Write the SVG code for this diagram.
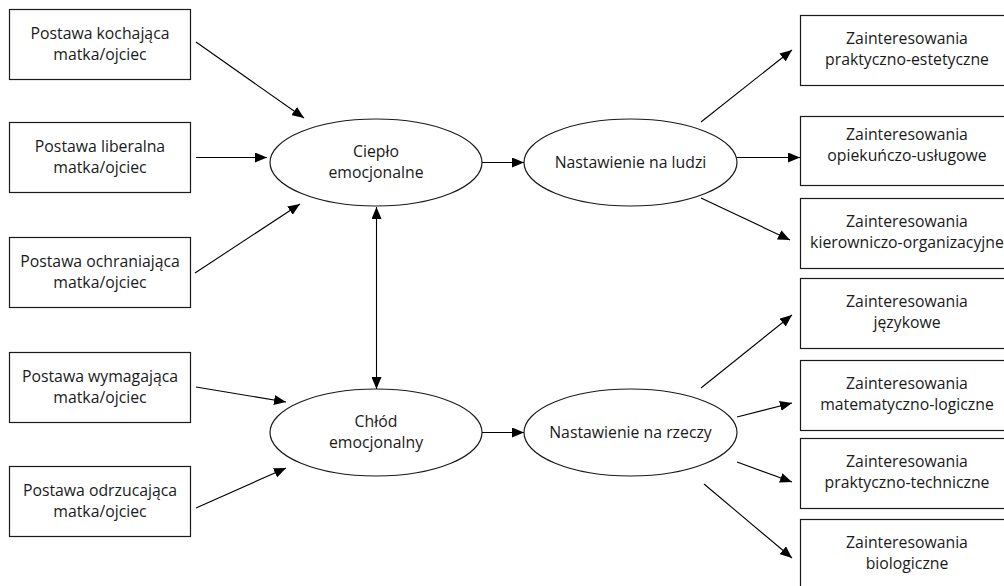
<svg xmlns="http://www.w3.org/2000/svg" width="1004" height="586" viewBox="0 0 1004 586">
<defs>
<marker id="ah" viewBox="0 0 12 10" refX="12" refY="5" markerWidth="12" markerHeight="10" markerUnits="userSpaceOnUse" orient="auto-start-reverse">
<path d="M0,0 L12,5 L0,10 z" fill="#000"/>
</marker>
<style>
.box{fill:#fff;stroke:#1a1a1a;stroke-width:1.2}
.ell{fill:#fff;stroke:#1a1a1a;stroke-width:1.2}
.t{font-family:"Open Sans","Noto Sans",sans-serif;font-size:15.8px;fill:#1a1a1a;text-anchor:middle}
.c{stroke:#000;stroke-width:1.1;fill:none;marker-end:url(#ah)}
</style>
</defs>
<rect width="1004" height="586" fill="#fff"/>
<g id="n-kochajaca"><rect class="box" x="9.5" y="9.5" width="181" height="70"/><text class="t" x="100" y="39">Postawa kochająca</text><text class="t" x="100" y="60">matka/ojciec</text></g>
<g id="n-liberalna"><rect class="box" x="9.5" y="122.5" width="181" height="70"/><text class="t" x="100" y="152">Postawa liberalna</text><text class="t" x="100" y="173">matka/ojciec</text></g>
<g id="n-ochraniajaca"><rect class="box" x="9.5" y="237.5" width="181" height="70"/><text class="t" x="100" y="267">Postawa ochraniająca</text><text class="t" x="100" y="288">matka/ojciec</text></g>
<g id="n-wymagajaca"><rect class="box" x="9.5" y="352.5" width="181" height="70"/><text class="t" x="100" y="382">Postawa wymagająca</text><text class="t" x="100" y="403">matka/ojciec</text></g>
<g id="n-odrzucajaca"><rect class="box" x="9.5" y="466.5" width="181" height="70"/><text class="t" x="100" y="496">Postawa odrzucająca</text><text class="t" x="100" y="517">matka/ojciec</text></g>
<g id="n-cieplo"><ellipse class="ell" cx="376" cy="162.5" rx="106" ry="43.5"/><text class="t" x="376" y="157">Ciepło</text><text class="t" x="376" y="178">emocjonalne</text></g>
<g id="n-chlod"><ellipse class="ell" cx="376" cy="432.5" rx="106" ry="43.5"/><text class="t" x="376" y="427">Chłód</text><text class="t" x="376" y="448">emocjonalny</text></g>
<g id="n-ludzi"><ellipse class="ell" cx="630.5" cy="162.5" rx="106.5" ry="43.5"/><text class="t" x="630.5" y="168">Nastawienie na ludzi</text></g>
<g id="n-rzeczy"><ellipse class="ell" cx="630.5" cy="432.5" rx="106.5" ry="43.5"/><text class="t" x="630.5" y="438">Nastawienie na rzeczy</text></g>
<g id="n-estetyczne"><rect class="box" x="800.5" y="15.5" width="215" height="70"/><text class="t" x="907" y="44">Zainteresowania</text><text class="t" x="907" y="65">praktyczno-estetyczne</text></g>
<g id="n-uslugowe"><rect class="box" x="800.5" y="116.5" width="215" height="69"/><text class="t" x="907" y="140">Zainteresowania</text><text class="t" x="907" y="161">opiekuńczo-usługowe</text></g>
<g id="n-organizacyjne"><rect class="box" x="800.5" y="198.5" width="215" height="70"/><text class="t" x="907" y="227">Zainteresowania</text><text class="t" x="907" y="248">kierowniczo-organizacyjne</text></g>
<g id="n-jezykowe"><rect class="box" x="800.5" y="278.5" width="215" height="70"/><text class="t" x="907" y="307">Zainteresowania</text><text class="t" x="907" y="328">językowe</text></g>
<g id="n-logiczne"><rect class="box" x="800.5" y="360.5" width="215" height="70"/><text class="t" x="907" y="389">Zainteresowania</text><text class="t" x="907" y="410">matematyczno-logiczne</text></g>
<g id="n-techniczne"><rect class="box" x="800.5" y="438.5" width="215" height="70"/><text class="t" x="907" y="467">Zainteresowania</text><text class="t" x="907" y="488">praktyczno-techniczne</text></g>
<g id="n-biologiczne"><rect class="box" x="800.5" y="519.5" width="215" height="80"/><text class="t" x="907" y="548">Zainteresowania</text><text class="t" x="907" y="569">biologiczne</text></g>
<g id="connectors">
<line class="c" x1="196" y1="42" x2="304" y2="118"/>
<line class="c" x1="196" y1="157.5" x2="267" y2="157.5"/>
<line class="c" x1="195" y1="273" x2="300" y2="204"/>
<line class="c" x1="196" y1="387" x2="286" y2="402"/>
<line class="c" x1="196" y1="508" x2="286" y2="468"/>
<line class="c" x1="376.5" y1="207" x2="376.5" y2="389" style="marker-start:url(#ah)"/>
<line class="c" x1="482" y1="162.5" x2="524" y2="162.5"/>
<line class="c" x1="482" y1="432.5" x2="524" y2="432.5"/>
<line class="c" x1="701" y1="122" x2="792" y2="50"/>
<line class="c" x1="737" y1="157.5" x2="800" y2="157.5"/>
<line class="c" x1="701" y1="198" x2="790" y2="240"/>
<line class="c" x1="701" y1="388" x2="792" y2="315"/>
<line class="c" x1="737" y1="417" x2="792" y2="403"/>
<line class="c" x1="737" y1="462" x2="792" y2="482"/>
<line class="c" x1="704" y1="484" x2="792" y2="558"/>
</g>
</svg>
